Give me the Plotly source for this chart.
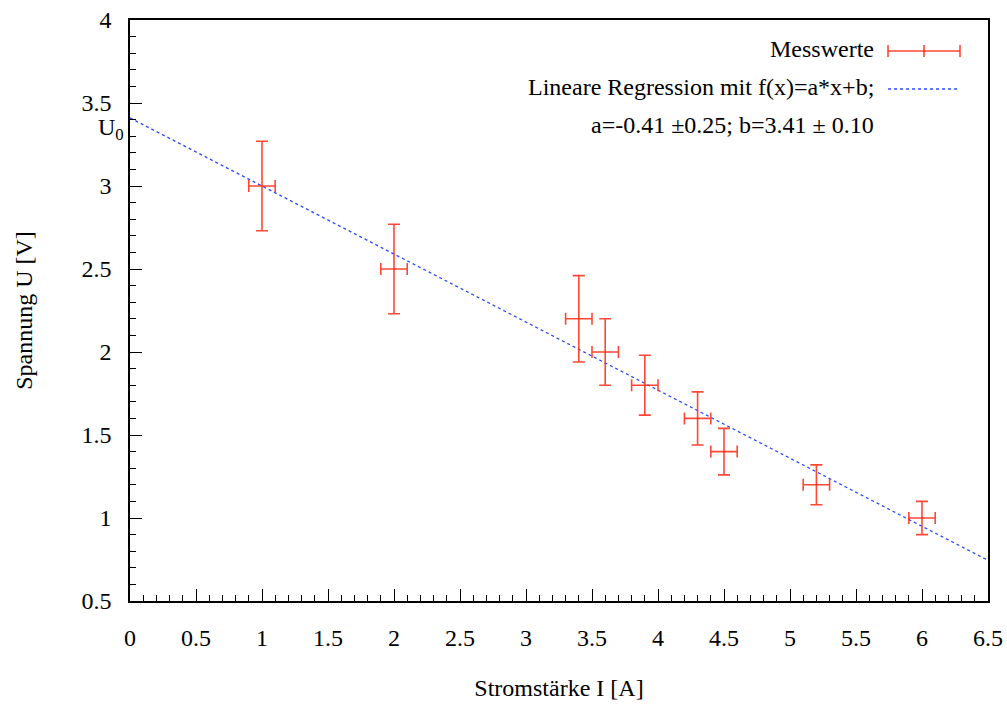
import plotly.graph_objects as go

# Data
current = [1.0, 2.0, 3.4, 3.6, 3.9, 4.3, 4.5, 5.2, 6.0]
voltage = [3.0, 2.5, 2.2, 2.0, 1.8, 1.6, 1.4, 1.2, 1.0]
current_err = [0.1, 0.1, 0.1, 0.1, 0.1, 0.1, 0.1, 0.1, 0.1]
voltage_err = [0.27, 0.27, 0.26, 0.2, 0.18, 0.16, 0.14, 0.12, 0.1]
fit_a = -0.41
fit_b = 3.41
fit_x = [0.0, 6.5]
fit_y = [fit_a * x + fit_b for x in fit_x]

RED = "rgba(255,40,15,0.85)"
BLUE = "#2a4cff"
FONT = "Times New Roman, Liberation Serif, serif"
FS = 24

fig = go.Figure()
fig.add_trace(go.Scatter(
    x=fit_x, y=fit_y, mode="lines",
    line=dict(color=BLUE, width=1.3, dash="dot"),
    showlegend=False, hoverinfo="skip"))
fig.add_trace(go.Scatter(
    x=current, y=voltage, mode="markers",
    marker=dict(symbol="line-ew", size=0, color=RED, line=dict(width=0)),
    error_x=dict(type="data", array=current_err, color=RED, thickness=1.6, width=6),
    error_y=dict(type="data", array=voltage_err, color=RED, thickness=1.6, width=6),
    showlegend=False))

axis_common = dict(
    showline=True, linecolor="black", linewidth=1.5, mirror=True,
    ticks="inside", ticklen=12, tickwidth=1.2, tickcolor="black",
    showgrid=False, zeroline=False, automargin=False,
    tickfont=dict(family=FONT, size=FS, color="black"),
    minor=dict(ticks="inside", ticklen=6, tickwidth=1, tickcolor="black", dtick=0.1, showgrid=False),
)

fig.update_xaxes(range=[0, 6.5], dtick=0.5, tick0=0, ticklabelstandoff=14,
                 title=dict(text="Stromstärke I [A]", font=dict(family=FONT, size=FS, color="black"), standoff=30),
                 **axis_common)
fig.update_yaxes(range=[0.5, 4], dtick=0.5, tick0=0.5, ticklabelstandoff=12,
                 tickvals=[0.5, 1, 1.5, 2, 2.5, 3, 3.5, 4],
                 ticktext=["0.5", "1", "1.5", "2", "2.5", "3", "3.5", "4"],
                 title=dict(text="Spannung U [V]", font=dict(family=FONT, size=FS, color="black"), standoff=42),
                 **axis_common)

L, R, T, B = 130, 19, 20, 103
W, H = 1007, 704
pw, ph = W - L - R, H - T - B

def px(xp):
    return (xp - L) / pw

def py(yp):
    return (H - B - yp) / ph

annotations = [
    dict(x=0, xref="paper", y=fit_b, yref="y", text="U<sub>0</sub>", showarrow=False,
         xanchor="right", yanchor="middle", xshift=-4, yshift=-11,
         font=dict(family=FONT, size=24, color="black")),
    dict(x=px(876), xref="paper", y=py(49), yref="paper", text="Messwerte", showarrow=False,
         xanchor="right", yanchor="middle", font=dict(family=FONT, size=FS, color="black")),
    dict(x=px(876), xref="paper", y=py(87), yref="paper", text="Lineare Regression mit f(x)=a*x+b;",
         showarrow=False, xanchor="right", yanchor="middle", font=dict(family=FONT, size=FS, color="black")),
    dict(x=px(876), xref="paper", y=py(125), yref="paper", text="a=-0.41 ±0.25; b=3.41 ± 0.10",
         showarrow=False, xanchor="right", yanchor="middle", font=dict(family=FONT, size=FS, color="black")),
]

shapes = [
    dict(type="line", xref="paper", yref="paper", x0=px(888), x1=px(960), y0=py(51), y1=py(51),
         line=dict(color=RED, width=1.6)),
    dict(type="line", xref="paper", yref="paper", x0=px(888), x1=px(888), y0=py(45), y1=py(57),
         line=dict(color=RED, width=1.6)),
    dict(type="line", xref="paper", yref="paper", x0=px(960), x1=px(960), y0=py(45), y1=py(57),
         line=dict(color=RED, width=1.6)),
    dict(type="line", xref="paper", yref="paper", x0=px(924), x1=px(924), y0=py(45), y1=py(57),
         line=dict(color=RED, width=1.6)),
    dict(type="line", xref="paper", yref="paper", x0=px(888), x1=px(960), y0=py(89), y1=py(89),
         line=dict(color=BLUE, width=1.3, dash="dot")),
]

fig.update_layout(
    width=W, height=H,
    margin=dict(l=L, r=R, t=T, b=B),
    paper_bgcolor="white", plot_bgcolor="white",
    font=dict(family=FONT, size=FS, color="black"),
    annotations=annotations, shapes=shapes,
    showlegend=False,
)

fig.write_html("out.html", config={"displayModeBar": False},
               post_script="document.body.style.margin='0';document.body.style.overflow='hidden';")
